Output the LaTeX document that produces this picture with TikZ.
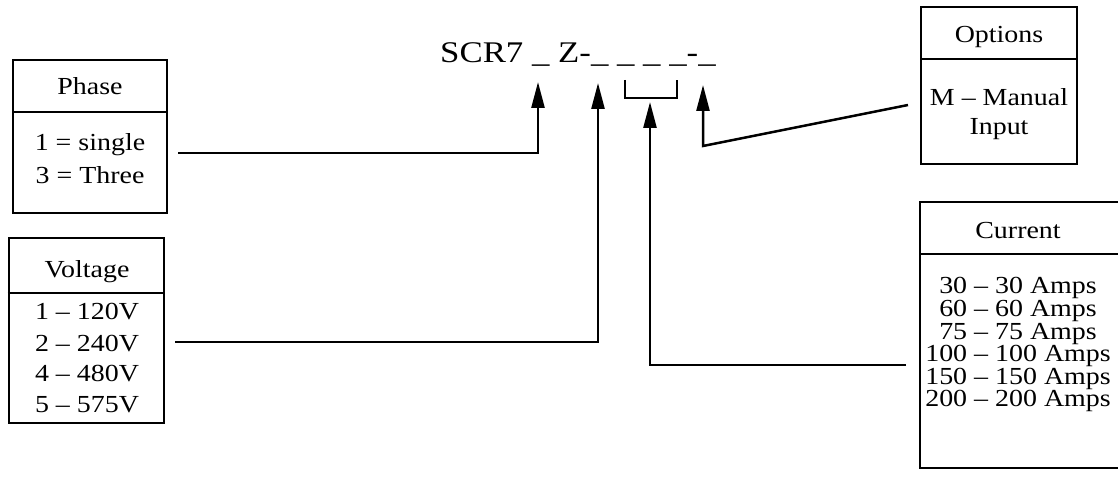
\documentclass[tikz,border=0pt]{standalone}
\usepackage{fontspec}
\setmainfont{Liberation Serif}
\usetikzlibrary{arrows.meta}
\newcommand{\hs}[1]{\scalebox{1.14}[1]{#1}}
\newcommand{\hc}[1]{\scalebox{1.16}[1]{#1}}
\tikzset{
  boxst/.style={draw, line width=2pt, inner sep=0pt, anchor=center},
  divst/.style={line width=2pt},
  conn/.style={line width=2.5pt, -{Triangle[length=26pt,width=13pt]}},
  plain/.style={line width=2.5pt},
  txt/.style={anchor=base, inner sep=0pt, text height=16pt, text depth=4pt,
    font=\fontsize{24.5}{24.5}\selectfont},
  code/.style={anchor=base west, inner sep=0pt, font=\fontsize{30}{30}\selectfont}
}
\begin{document}
\begin{tikzpicture}[x=1pt,y=-1pt]
\useasboundingbox (0,0) rectangle (1118,481);
% code string
\node[code] (codestr) at (440,63) {\hc{SCR7 \_ Z-\_ \_ \_ \_-\_}};
% boxes
\node[boxst, minimum width=154pt, minimum height=153pt] (phase) at (90,136.5) {};
\node[boxst, minimum width=155pt, minimum height=185pt] (volt) at (86,330.5) {};
\node[boxst, minimum width=156pt, minimum height=157pt] (opt) at (999,85.5) {};
\node[boxst, minimum width=202pt, minimum height=266pt] (cur) at (1021,335) {};
% dividers
\draw[divst] (phase.west |- 0,112) -- (phase.east |- 0,112);
\draw[divst] (volt.west |- 0,293) -- (volt.east |- 0,293);
\draw[divst] (opt.west |- 0,59) -- (opt.east |- 0,59);
\draw[divst] (cur.west |- 0,254) -- (cur.east |- 0,254);
% phase texts
\node[txt] (phh) at (90,95) {\hs{Phase}};
\node[txt] (ph1) at (90,151) {\hs{1 = single}};
\node[txt] (ph3) at (90,183) {\hs{3 = Three}};
% voltage texts
\node[txt] (vh) at (87,277) {\hs{Voltage}};
\node[txt] (v1) at (87,319) {\hs{1 – 120V}};
\node[txt] (v2) at (87,351) {\hs{2 – 240V}};
\node[txt] (v4) at (87,381) {\hs{4 – 480V}};
\node[txt] (v5) at (87,412) {\hs{5 – 575V}};
% options texts
\node[txt] (oh) at (999,43) {\hs{Options}};
\node[txt] (o1) at (999,106) {\hs{M – Manual}};
\node[txt] (o2) at (999,135) {\hs{Input}};
% current texts
\node[txt] (ch) at (1018,238) {\hs{Current}};
\node[txt] (c1) at (1018,293) {\hs{30 – 30 Amps}};
\node[txt] (c2) at (1018,316) {\hs{60 – 60 Amps}};
\node[txt] (c3) at (1018,339) {\hs{75 – 75 Amps}};
\node[txt] (c4) at (1018,361) {\hs{100 – 100 Amps}};
\node[txt] (c5) at (1018,384) {\hs{150 – 150 Amps}};
\node[txt] (c6) at (1018,406) {\hs{200 – 200 Amps}};
% connector ends
\coordinate (phs) at (178,153);
\coordinate (t1) at (538,82);
\coordinate (vs) at (175,342);
\coordinate (t2) at (598,83);
\coordinate (cs) at (906,365);
\coordinate (t3) at (650,102);
\coordinate (os) at (908,105);
\coordinate (ok) at (703,146);
\coordinate (t4) at (703,85);
% connectors
\draw[conn] (phs) -- (phs -| t1) -- (t1);
\draw[conn] (vs) -- (vs -| t2) -- (t2);
\draw[conn] (cs) -- (cs -| t3) -- (t3);
\draw[conn] (os) -- (ok) -- (t4);
% bracket
\coordinate (bl) at (625,80);
\coordinate (br) at (677,80);
\draw[plain] (bl) -- (625,98) -- (677,98) -- (br);
\end{tikzpicture}
\end{document}
